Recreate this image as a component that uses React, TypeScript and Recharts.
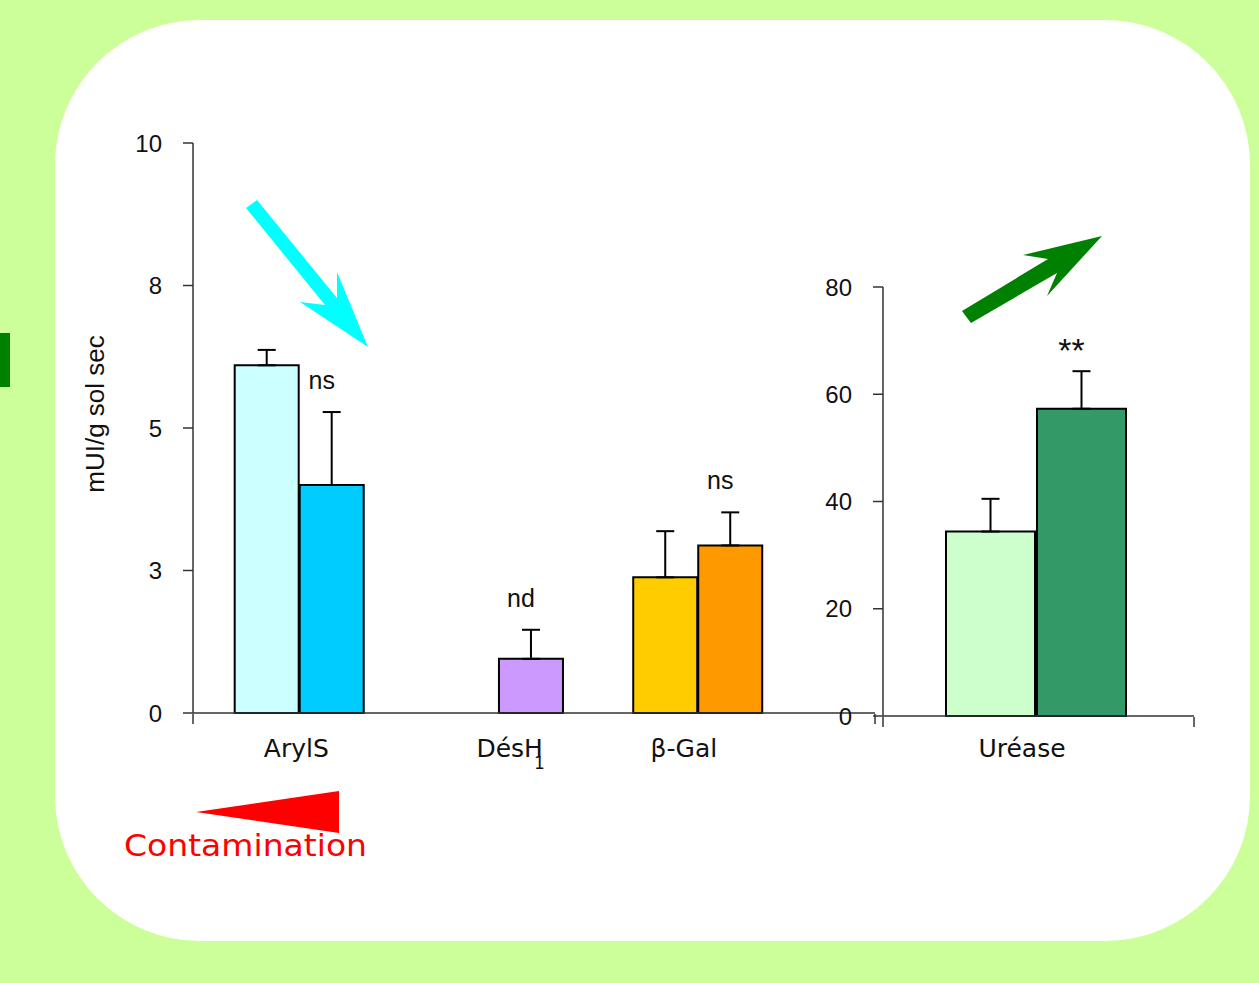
import React from "react";
import { BarChart, Bar, XAxis, YAxis, ErrorBar, Cell, LabelList } from "recharts";

// left panel: mUI/g sol sec
const leftCategories = ["ArylS", "DésH", "β-Gal"];
const leftControl = [6.1, null, 2.38];
const leftControlErr = [0.27, null, 0.81];
const leftContam = [4.0, 0.95, 2.94];
const leftContamErr = [1.28, 0.51, 0.58];
const leftSig = ["ns", "nd", "ns"];
const leftTicks = [0, 2.5, 5, 7.5, 10];

// right panel: uréase
const rightCategories = ["Uréase"];
const rightControl = [34.4];
const rightControlErr = [6.1];
const rightContam = [57.3];
const rightContamErr = [7.0];
const rightSig = ["**"];
const rightTicks = [0, 20, 40, 60, 80];

const leftControlColors = ["#ccffff", "#cc99ff", "#ffcc00"];
const leftContamColors = ["#00ccff", "#cc99ff", "#ff9900"];
const rightControlColors = ["#ccffcc"];
const rightContamColors = ["#339966"];

const leftData = leftCategories.map((name, i) => ({
  name,
  ctrl: leftControl[i],
  ctrlErr: leftControlErr[i] == null ? undefined : [0, leftControlErr[i]],
  contam: leftContam[i],
  contamErr: [0, leftContamErr[i]],
  sig: leftSig[i],
}));

const rightData = rightCategories.map((name, i) => ({
  name,
  ctrl: rightControl[i],
  ctrlErr: [0, rightControlErr[i]],
  contam: rightContam[i],
  contamErr: [0, rightContamErr[i]],
  sig: rightSig[i],
}));

const W = 1259;
const H = 983;
const AXIS = "#333";
const NUM_FONT = "'Liberation Sans', Arial, sans-serif";
const CAT_FONT = "'DejaVu Sans', sans-serif";

const labelNudge: Record<string, number> = { ArylS: -3, "DésH": 12, "β-Gal": -14, "Uréase": -14 };

const CatTick = (props: any) => {
  const { x, y, payload, lift = 0 } = props;
  const v = payload.value as string;
  const dx = labelNudge[v] || 0;
  const ty = y + 36 - lift;
  if (v === "DésH") {
    return (
      <text x={x + dx} y={ty} textAnchor="middle" fontSize={25} fontFamily={CAT_FONT} fill="#111">
        DésH
        <tspan dx={-9} dy={12} fontSize={17}>1</tspan>
      </text>
    );
  }
  return (
    <text x={x + dx} y={ty} textAnchor="middle" fontSize={25} fontFamily={CAT_FONT} fill="#111">
      {v}
    </text>
  );
};

const NoLabel = () => null;
// the frame axis spans the whole plot: 0 at the left edge, 1 at the right edge
const frameEnd = () => 1;

const makeSig = (errs: number[], pxPerUnit: number) => (props: any) => {
  const idx = props.index ?? 0;
  const vb = props.viewBox || props;
  const bx = vb.x ?? props.x;
  const bw = vb.width ?? props.width;
  const by = vb.y ?? props.y;
  const errTop = by - (errs[idx] || 0) * pxPerUnit;
  const stars = props.value === "**";
  return (
    <text
      x={bx + bw / 2 - 10}
      y={stars ? errTop - 9 : errTop - 23}
      textAnchor="middle"
      fontSize={stars ? 34 : 25}
      fontFamily={NUM_FONT}
      fill="#111"
    >
      {props.value}
    </text>
  );
};

const tickStyle = { fontSize: 24, fontFamily: NUM_FONT, fill: "#111" };

export default function App() {
  return (
    <div style={{ position: "absolute", left: 0, top: 0, width: W, height: H, background: "#ccff99", overflow: "hidden" }}>
      <svg width={W} height={H} style={{ position: "absolute", left: 0, top: 0 }}>
        <rect x={55} y={20} width={1195} height={921} rx={145} ry={145} fill="#ffffff" />
        <rect x={0} y={333} width={10} height={54} fill="#008000" />
      </svg>

      <div style={{ position: "absolute", left: 0, top: 0 }}>
        <BarChart
          width={900}
          height={H}
          data={leftData}
          margin={{ top: 143, right: 25, bottom: 268, left: 133 }}
          barSize={64}
          barGap={1}
        >
          <XAxis
            dataKey="name"
            height={1}
            padding={{ left: 6.7, right: 77.5 }}
            tickLine={false}
            axisLine={{ stroke: AXIS, strokeWidth: 1.5 }}
            tick={<CatTick />}
            interval={0}
          />
          <XAxis
            xAxisId="edge"
            type="number"
            dataKey={frameEnd}
            domain={[0, 1]}
            allowDataOverflow
            ticks={[0, 1]}
            height={1}
            tick={<NoLabel />}
            axisLine={false}
            tickSize={10}
            tickLine={{ stroke: AXIS, strokeWidth: 1.5 }}
          />
          <YAxis
            width={60}
            domain={[0, 10]}
            ticks={leftTicks}
            tickFormatter={(v: number) => String(Math.round(v))}
            tickSize={10}
            tickMargin={21}
            tick={tickStyle}
            axisLine={{ stroke: AXIS, strokeWidth: 1.5 }}
            tickLine={{ stroke: AXIS, strokeWidth: 1.5 }}
            label={{
              content: (p: any) => {
                const vb = p.viewBox || {};
                const cx = (vb.x ?? 133) - 38;
                const cy = (vb.y ?? 143) + (vb.height ?? 570) / 2 - 14;
                return (
                  <text
                    x={cx}
                    y={cy}
                    transform={`rotate(-90 ${cx} ${cy})`}
                    textAnchor="middle"
                    dominantBaseline="central"
                    fontSize={26}
                    fontFamily={NUM_FONT}
                    fill="#111"
                  >
                    mUI/g sol sec
                  </text>
                );
              },
            }}
          />
          <Bar dataKey="ctrl" stroke="#000" strokeWidth={2} isAnimationActive={false}>
            {leftData.map((d, i) => (
              <Cell key={d.name} fill={leftControlColors[i]} />
            ))}
            <ErrorBar dataKey="ctrlErr" width={9} stroke="#000" strokeWidth={2} direction="y" />
          </Bar>
          <Bar dataKey="contam" stroke="#000" strokeWidth={2} isAnimationActive={false}>
            {leftData.map((d, i) => (
              <Cell key={d.name} fill={leftContamColors[i]} />
            ))}
            <ErrorBar dataKey="contamErr" width={9} stroke="#000" strokeWidth={2} direction="y" />
            <LabelList dataKey="sig" content={makeSig(leftContamErr, 57)} />
          </Bar>
        </BarChart>
      </div>

      <div style={{ position: "absolute", left: 0, top: 0 }}>
        <BarChart
          width={W}
          height={H}
          data={rightData}
          margin={{ top: 287, right: 65, bottom: 265, left: 823 }}
          barSize={89}
          barGap={2}
        >
          <XAxis
            dataKey="name"
            height={1}
            padding={{ left: 0, right: 5 }}
            tickLine={false}
            axisLine={{ stroke: AXIS, strokeWidth: 1.5 }}
            tick={<CatTick lift={3} />}
            interval={0}
          />
          <XAxis
            xAxisId="edge"
            type="number"
            dataKey={frameEnd}
            domain={[0, 1]}
            allowDataOverflow
            ticks={[0, 1]}
            height={1}
            tick={<NoLabel />}
            axisLine={false}
            tickSize={10}
            tickLine={{ stroke: AXIS, strokeWidth: 1.5 }}
          />
          <YAxis
            width={60}
            domain={[0, 80]}
            ticks={rightTicks}
            tickSize={10}
            tickMargin={21}
            tick={tickStyle}
            axisLine={{ stroke: AXIS, strokeWidth: 1.5 }}
            tickLine={{ stroke: AXIS, strokeWidth: 1.5 }}
          />
          <Bar dataKey="ctrl" stroke="#000" strokeWidth={2} isAnimationActive={false}>
            {rightData.map((d, i) => (
              <Cell key={d.name} fill={rightControlColors[i]} />
            ))}
            <ErrorBar dataKey="ctrlErr" width={9} stroke="#000" strokeWidth={2} direction="y" />
          </Bar>
          <Bar dataKey="contam" stroke="#000" strokeWidth={2} isAnimationActive={false}>
            {rightData.map((d, i) => (
              <Cell key={d.name} fill={rightContamColors[i]} />
            ))}
            <ErrorBar dataKey="contamErr" width={9} stroke="#000" strokeWidth={2} direction="y" />
            <LabelList dataKey="sig" content={makeSig(rightContamErr, 429 / 80)} />
          </Bar>
        </BarChart>
      </div>

      <svg width={W} height={H} style={{ position: "absolute", left: 0, top: 0, pointerEvents: "none" }}>
        <polygon
          points="246,208 257,200 337,298 337,272 368,347 300,302 325,305"
          fill="#00ffff"
        />
        <polygon
          points="962,311 1048,259 1023,255 1102,236 1047,296 1057,273 971,323"
          fill="#008000"
        />
        <polygon points="196,812 339,791 339,833" fill="#ff0000" />
        <text
          x={124}
          y={856}
          fontSize={31}
          fontFamily={CAT_FONT}
          fill="#ff0000"
          textLength={243}
          lengthAdjust="spacingAndGlyphs"
        >
          Contamination
        </text>
      </svg>
    </div>
  );
}
